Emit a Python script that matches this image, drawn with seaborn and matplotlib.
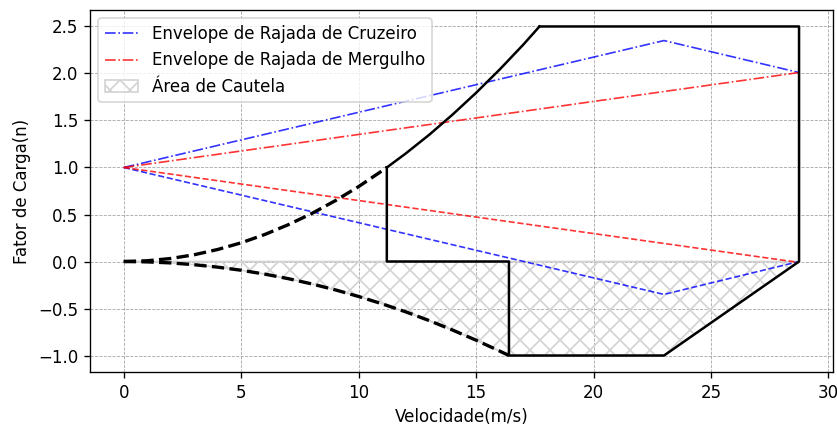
import matplotlib
matplotlib.use("Agg")
import matplotlib.pyplot as plt
import seaborn as sns
import pandas as pd

# --- data ---
# positive stall curve (dashed part, below n=1)
v_pos_dash = [0, 1, 2, 3, 4, 5, 6, 7, 8, 9, 10, 11, 11.2]
n_pos_dash = [0, 0.008, 0.032, 0.072, 0.128, 0.199, 0.287, 0.391, 0.510, 0.646, 0.797, 0.965, 1.0]
# positive stall curve (solid part, up to n_max)
v_pos_solid = [11.2, 12, 13, 14, 15, 16, 17, 17.7]
n_pos_solid = [1.0, 1.148, 1.347, 1.563, 1.794, 2.041, 2.304, 2.5]
# negative stall curve (dashed)
v_neg_dash = [0, 1, 2, 3, 4, 5, 6, 7, 8, 9, 10, 11, 12, 13, 14, 15, 16, 16.4]
n_neg_dash = [0, -0.004, -0.015, -0.034, -0.060, -0.093, -0.134, -0.182, -0.238,
              -0.301, -0.372, -0.450, -0.535, -0.628, -0.729, -0.837, -0.952, -1.0]
# rest of the flight envelope (solid)
v_env = [17.7, 28.75, 28.75, 23.0, 16.4, 16.4, 11.2, 11.2]
n_env = [2.5, 2.5, 0.0, -1.0, -1.0, 0.0, 0.0, 1.0]
# gust envelopes
v_cruise = [0, 23.0, 28.75]
n_cruise_up = [1.0, 2.35, 2.01]
n_cruise_dn = [1.0, -0.35, 0.0]
v_dive = [0, 28.75]
n_dive_up = [1.0, 2.01]
n_dive_dn = [1.0, -0.01]
# caution area lower bound
v_caution = v_neg_dash + [23.0, 28.75]
n_caution = n_neg_dash + [-1.0, 0.0]

fig, ax = plt.subplots(figsize=(837 / 120, 426 / 120), dpi=120)

def line(x, y, **kw):
    df = pd.DataFrame({"x": x, "y": y})
    sns.lineplot(data=df, x="x", y="y", sort=False, estimator=None, ax=ax, **kw)

line(v_cruise, n_cruise_up, color="blue", linestyle="-.", linewidth=1.0, alpha=0.8,
     label="Envelope de Rajada de Cruzeiro")
line(v_cruise, n_cruise_dn, color="blue", linestyle="--", linewidth=1.0, alpha=0.8)
line(v_dive, n_dive_up, color="red", linestyle="-.", linewidth=1.0, alpha=0.8,
     label="Envelope de Rajada de Mergulho")
line(v_dive, n_dive_dn, color="red", linestyle="--", linewidth=1.0, alpha=0.8)

ax.fill_between(v_caution, n_caution, 0, facecolor="none", edgecolor="lightgray",
                hatch="xx", linewidth=1.0, label="Área de Cautela")

line(v_pos_dash, n_pos_dash, color="black", linestyle="--", linewidth=2.0)
line(v_neg_dash, n_neg_dash, color="black", linestyle="--", linewidth=2.0)
line(v_pos_solid, n_pos_solid, color="black", linestyle="-", linewidth=1.5)
line(v_env, n_env, color="black", linestyle="-", linewidth=1.5)

ax.grid(True, linestyle="--", color="gray", alpha=0.7, linewidth=0.5)
ax.set_axisbelow(True)
ax.set_xlabel("Velocidade(m/s)")
ax.set_ylabel("Fator de Carga(n)")
ax.set_xticks([0, 5, 10, 15, 20, 25, 30])
ax.set_yticks([-1.0, -0.5, 0.0, 0.5, 1.0, 1.5, 2.0, 2.5])
ax.legend(loc="upper left")

fig.subplots_adjust(left=0.1075, right=0.995, top=0.9765, bottom=0.1268)
fig.savefig("out.png", dpi=120)
